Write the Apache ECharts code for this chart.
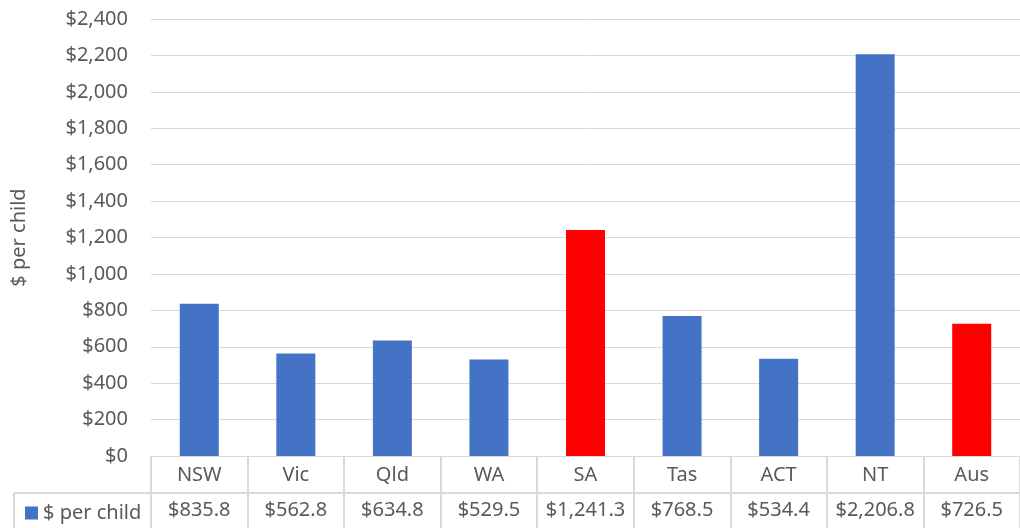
<!DOCTYPE html>
<html>
<head>
<meta charset="utf-8">
<script src="https://cdn.jsdelivr.net/npm/echarts@6/dist/echarts.min.js"></script>
<style>
html,body{margin:0;padding:0;background:#fff;}
#main{width:1020px;height:528px;}
</style>
</head>
<body>
<div id="main"></div>
<script type="text/javascript">
// data
var categories = ['NSW','Vic','Qld','WA','SA','Tas','ACT','NT','Aus'];
var values = [835.8, 562.8, 634.8, 529.5, 1241.3, 768.5, 534.4, 2206.8, 726.5];
var redOnes = ['SA','Aus'];
var seriesName = '$ per child';

var blue = '#4472C4', red = '#FF0000', grey = '#d9d9d9', txt = '#595959';
var font = 'Noto Sans';

function money(v, dec){
	var s = v.toFixed(dec);
	var parts = s.split('.');
	parts[0] = parts[0].replace(/\B(?=(\d{3})+(?!\d))/g, ',');
	return '$' + parts.join('.');
}

var myChart = echarts.init(document.getElementById('main'));

var option = {
	animation: false,
	textStyle: {fontFamily: font},
	legend: {
		data: [seriesName],
		left: 20, top: 498,
		icon: 'rect', itemWidth: 13, itemHeight: 13, itemGap: 6,
		textStyle: {color: txt, fontSize: 20, fontFamily: font}
	},
	grid: {left: 151, right: -8.5, top: 19, bottom: 72, containLabel: false},
	xAxis: [{
		type: 'category',
		data: categories,
		axisLine: {lineStyle: {color: grey, width: 1}},
		axisTick: {show: true, length: 72, lineStyle: {color: grey, width: 2}},
		axisLabel: {color: txt, fontSize: 20, margin: 9, interval: 0}
	}, {
		type: 'category',
		position: 'bottom',
		offset: 37,
		data: values.map(function(v){ return money(v, 1); }),
		axisLine: {lineStyle: {color: grey, width: 2}},
		axisTick: {show: false},
		axisLabel: {color: txt, fontSize: 20, margin: 7, interval: 0}
	}],
	yAxis: {
		type: 'value',
		min: 0, max: 2400, interval: 200,
		name: '$ per child',
		nameLocation: 'middle',
		nameGap: 122,
		nameTextStyle: {color: txt, fontSize: 20, fontFamily: font},
		axisLine: {show: false},
		axisTick: {show: false},
		axisLabel: {color: txt, fontSize: 20, margin: 23, formatter: function(v){ return money(v, 0); }},
		splitLine: {lineStyle: {color: grey, width: 1}}
	},
	series: [{
		name: seriesName,
		type: 'bar',
		xAxisIndex: 0,
		barWidth: 39,
		itemStyle: {color: blue},
		data: values.map(function(v, i){
			return redOnes.indexOf(categories[i]) >= 0 ? {value: v, itemStyle: {color: red}} : v;
		})
	}],
	graphic: [
		{type: 'line', shape: {x1: 14, y1: 493, x2: 151, y2: 493}, style: {stroke: grey, lineWidth: 2}},
		{type: 'line', shape: {x1: 14, y1: 493, x2: 14, y2: 528}, style: {stroke: grey, lineWidth: 2}}
	]
};

myChart.setOption(option);
</script>
</body>
</html>
